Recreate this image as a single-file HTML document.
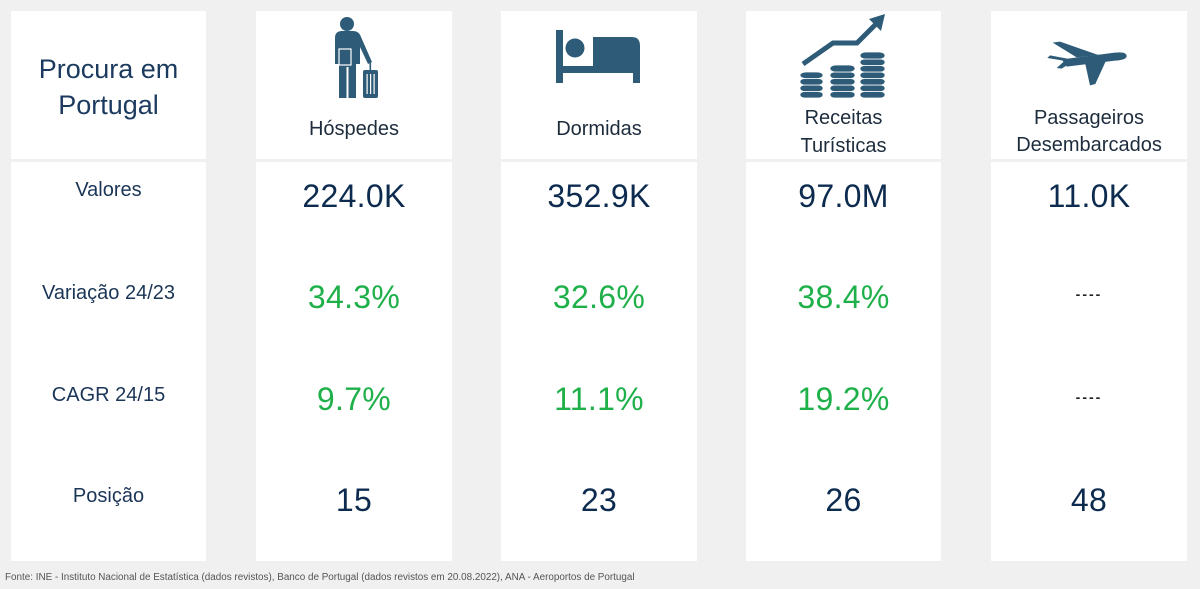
<!DOCTYPE html>
<html><head><meta charset="utf-8">
<style>
html,body{margin:0;padding:0}
body{width:1200px;height:589px;background:#f0f0f0;position:relative;overflow:hidden;font-family:"Liberation Sans","DejaVu Sans",sans-serif}
.p{position:absolute;background:#fff}
.t{position:absolute;text-align:center;white-space:nowrap;line-height:1}
.lab{font-size:20px;color:#1b3556}
.hd{font-size:20px;color:#1d2c3c}
.v{font-size:32px;color:#0d2b4f;letter-spacing:0.3px}
.g{color:#1fb04a}
.d{font-size:14px;color:#222;font-weight:bold;letter-spacing:2px}
</style></head><body>

<!-- header boxes -->
<div class="p" style="left:11px;top:11px;width:195px;height:148px"></div>
<div class="p" style="left:256px;top:11px;width:196px;height:148px"></div>
<div class="p" style="left:501px;top:11px;width:196px;height:148px"></div>
<div class="p" style="left:746px;top:11px;width:195px;height:148px"></div>
<div class="p" style="left:991px;top:11px;width:196px;height:148px"></div>
<!-- body boxes -->
<div class="p" style="left:11px;top:162px;width:195px;height:399px"></div>
<div class="p" style="left:256px;top:162px;width:196px;height:399px"></div>
<div class="p" style="left:501px;top:162px;width:196px;height:399px"></div>
<div class="p" style="left:746px;top:162px;width:195px;height:399px"></div>
<div class="p" style="left:991px;top:162px;width:196px;height:399px"></div>

<svg width="1200" height="589" style="position:absolute;left:0;top:0" xmlns="http://www.w3.org/2000/svg">
<g fill="#2e5c78">
 <!-- person -->
 <circle cx="347" cy="24" r="7"/>
 <path d="M335,38 Q335,31 342,31 L353,31 Q359,31 361,37 L372,62 L368,64 L360,47 L360,64 L356,64 L356,98 L348.5,98 L348.5,67 L346.5,67 L346.5,98 L339,98 L339,64 L335,64 Z"/>
 <rect x="339" y="49" width="12" height="16" stroke="#fff" stroke-width="1.2"/>
 <rect x="369.5" y="62" width="1.6" height="9"/>
 <rect x="363" y="70" width="15" height="28" rx="2"/>
 <!-- bed -->
 <rect x="556" y="30" width="7" height="53"/>
 <circle cx="575" cy="48" r="9.5"/>
 <path d="M593,37 L632,37 Q640,37 640,46 L640,83 L633,83 L633,73 L556,73 L556,66 L593,66 Z"/>
 <!-- chart arrow -->
 <polyline points="803,64 833,43 857,43 877,23" fill="none" stroke="#2e5c78" stroke-width="5"/>
 <polygon points="885,14 869,19 881,31"/>
 <!-- plane -->
 <g transform="translate(1030,30) scale(0.3333)">
  <path d="M95,88 L255,68 Q290,64 290,79 Q288,90 255,92 L110,110 Z"/>
  <path d="M140,82 L68,38 L90,35 L205,75 Z"/>
  <path d="M165,98 L180,166 L196,162 L228,92 Z"/>
  <path d="M100,92 L52,84 L60,76 L112,86 Z"/>
  <path d="M100,96 L80,114 L95,116 L120,100 Z"/>
 </g>
</g>
<g fill="#fff">
 <rect x="366.5" y="74" width="1.2" height="20"/>
 <rect x="370" y="74" width="1.2" height="20"/>
 <rect x="373.5" y="74" width="1.2" height="20"/>
</g>
<!-- coins -->
<g fill="#2e5c78" stroke="#fff" stroke-width="0.7">
 <rect x="800" y="91.5" width="23" height="6.5" rx="5" ry="3"/>
 <rect x="800" y="85" width="23" height="6.5" rx="5" ry="3"/>
 <rect x="800" y="78.5" width="23" height="6.5" rx="5" ry="3"/>
 <rect x="800" y="72" width="23" height="6.5" rx="6" ry="3.2"/>
 <rect x="830" y="91.5" width="25" height="6.5" rx="5" ry="3"/>
 <rect x="830" y="85" width="25" height="6.5" rx="5" ry="3"/>
 <rect x="830" y="78.5" width="25" height="6.5" rx="5" ry="3"/>
 <rect x="830" y="72" width="25" height="6.5" rx="5" ry="3"/>
 <rect x="830" y="65" width="25" height="7" rx="6" ry="3.4"/>
 <rect x="860" y="91.5" width="25" height="6.5" rx="5" ry="3"/>
 <rect x="860" y="85" width="25" height="6.5" rx="5" ry="3"/>
 <rect x="860" y="78.5" width="25" height="6.5" rx="5" ry="3"/>
 <rect x="860" y="72" width="25" height="6.5" rx="5" ry="3"/>
 <rect x="860" y="65.5" width="25" height="6.5" rx="5" ry="3"/>
 <rect x="860" y="59" width="25" height="6.5" rx="5" ry="3"/>
 <rect x="860" y="52" width="25" height="7" rx="6" ry="3.4"/>
</g>
</svg>

<!-- header texts -->
<div class="t" style="left:11px;width:195px;top:51px;font-size:27px;color:#1b3a5e;line-height:36px">Procura em<br>Portugal</div>
<div class="t hd" style="left:256px;width:196px;top:119px">Hóspedes</div>
<div class="t hd" style="left:501px;width:196px;top:119px">Dormidas</div>
<div class="t hd" style="left:746px;width:195px;line-height:28px;top:104px">Receitas<br>Turísticas</div>
<div class="t hd" style="left:991px;width:196px;top:105px;line-height:27px">Passageiros<br>Desembarcados</div>

<!-- row labels -->
<div class="t lab" style="left:11px;width:195px;top:180px">Valores</div>
<div class="t lab" style="left:11px;width:195px;top:283px">Variação 24/23</div>
<div class="t lab" style="left:11px;width:195px;top:385px">CAGR 24/15</div>
<div class="t lab" style="left:11px;width:195px;top:486px">Posição</div>

<!-- values -->
<div class="t v" style="left:256px;width:196px;top:180px">224.0K</div>
<div class="t v" style="left:501px;width:196px;top:180px">352.9K</div>
<div class="t v" style="left:746px;width:195px;top:180px">97.0M</div>
<div class="t v" style="left:991px;width:196px;top:180px">11.0K</div>

<div class="t v g" style="left:256px;width:196px;top:281px">34.3%</div>
<div class="t v g" style="left:501px;width:196px;top:281px">32.6%</div>
<div class="t v g" style="left:746px;width:195px;top:281px">38.4%</div>
<div class="t d" style="left:991px;width:196px;top:287px">----</div>

<div class="t v g" style="left:256px;width:196px;top:383px">9.7%</div>
<div class="t v g" style="left:501px;width:196px;top:383px">11.1%</div>
<div class="t v g" style="left:746px;width:195px;top:383px">19.2%</div>
<div class="t d" style="left:991px;width:196px;top:390px">----</div>

<div class="t v" style="left:256px;width:196px;top:484px">15</div>
<div class="t v" style="left:501px;width:196px;top:484px">23</div>
<div class="t v" style="left:746px;width:195px;top:484px">26</div>
<div class="t v" style="left:991px;width:196px;top:484px">48</div>

<!-- footer -->
<div style="position:absolute;left:5px;top:573px;font-size:9.9px;color:#555;white-space:nowrap;line-height:1">Fonte: INE - Instituto Nacional de Estatística (dados revistos), Banco de Portugal (dados revistos em 20.08.2022), ANA - Aeroportos de Portugal</div>

</body></html>
